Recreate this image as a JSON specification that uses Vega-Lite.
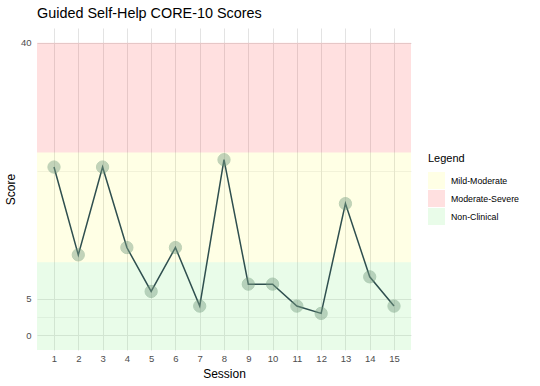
{
  "$schema": "https://vega.github.io/schema/vega-lite/v6.json",
  "autosize": {"type": "none"},
  "width": 374,
  "height": 322,
  "padding": {"left": 37, "top": 28, "right": 129, "bottom": 36},
  "background": "white",
  "title": {"text": "Guided Self-Help CORE-10 Scores", "anchor": "start", "frame": "group", "fontSize": 14.4, "fontWeight": "normal", "color": "#000000", "font": "Liberation Sans", "offset": 7},
  "config": {
    "font": "Liberation Sans",
    "view": {"stroke": null},
    "axis": {"domain": false, "ticks": false, "labelColor": "#4D4D4D", "labelFontSize": 9.5, "titleColor": "#000000", "titleFontSize": 12, "titleFontWeight": "normal", "gridColor": "#E3E3E3", "labelOverlap": false}
  },
  "datasets": {
    "bands": [
      {"band": "Non-Clinical", "ymin": -2, "ymax": 10},
      {"band": "Mild-Moderate", "ymin": 10, "ymax": 25},
      {"band": "Moderate-Severe", "ymin": 25, "ymax": 40}
    ],
    "scores": [
      {"Session": 1, "Score": 23},
      {"Session": 2, "Score": 11},
      {"Session": 3, "Score": 23},
      {"Session": 4, "Score": 12},
      {"Session": 5, "Score": 6},
      {"Session": 6, "Score": 12},
      {"Session": 7, "Score": 4},
      {"Session": 8, "Score": 24},
      {"Session": 9, "Score": 7},
      {"Session": 10, "Score": 7},
      {"Session": 11, "Score": 4},
      {"Session": 12, "Score": 3},
      {"Session": 13, "Score": 18},
      {"Session": 14, "Score": 8},
      {"Session": 15, "Score": 4}
    ]
  },
  "resolve": {"axis": {"x": "independent"}},
  "layer": [
    {
      "data": {"name": "bands"},
      "mark": {"type": "rect"},
      "encoding": {
        "y": {"field": "ymin", "type": "quantitative", "scale": {"domain": [-2, 42], "nice": false, "zero": false},
              "axis": {"title": "Score", "values": [0, 2.5, 5, 22.5, 40], "labelExpr": "datum.value % 1 === 0 ? datum.label : ''", "labelPadding": 6, "titlePadding": 3,
                       "gridWidth": {"condition": {"test": "datum.value % 1 !== 0", "value": 0.5}, "value": 1}}},
        "y2": {"field": "ymax"},
        "color": {"field": "band", "type": "nominal", "title": "Legend",
                  "scale": {"domain": ["Mild-Moderate", "Moderate-Severe", "Non-Clinical"], "range": ["rgba(255,255,0,0.1)", "rgba(255,0,0,0.12)", "rgba(144,238,144,0.2)"]},
                  "legend": {"orient": "none", "legendX": 391, "legendY": 125, "symbolType": "square", "symbolSize": 289, "symbolStrokeWidth": 0, "titleFontSize": 11, "titleFontWeight": "normal", "titleColor": "#000000", "labelFontSize": 8.8, "labelColor": "#000000", "labelOffset": 6, "rowPadding": 1, "titlePadding": 8}}
      }
    },
    {
      "data": {"name": "scores"},
      "mark": {"type": "line", "color": "#2F4F4F", "strokeWidth": 1.5},
      "encoding": {
        "x": {"field": "Session", "type": "quantitative", "scale": {"domain": [0.3, 15.7], "nice": false, "zero": false},
              "axis": {"title": "Session", "values": [1, 2, 3, 4, 5, 6, 7, 8, 9, 10, 11, 12, 13, 14, 15], "format": "d", "labelFlush": false, "labelPadding": 3, "titlePadding": 6, "gridWidth": 1}},
        "y": {"field": "Score", "type": "quantitative"}
      }
    },
    {
      "data": {"name": "scores"},
      "mark": {"type": "circle", "size": 150, "color": "#7A9E84", "opacity": 0.45, "stroke": "#6E9A7A", "strokeWidth": 1},
      "encoding": {
        "x": {"field": "Session", "type": "quantitative",
              "axis": {"title": null, "labels": false, "values": [0.5, 1.5, 2.5, 3.5, 4.5, 5.5, 6.5, 7.5, 8.5, 9.5, 10.5, 11.5, 12.5, 13.5, 14.5, 15.5], "gridWidth": 0.5, "offset": 0}},
        "y": {"field": "Score", "type": "quantitative"}
      }
    }
  ]
}
